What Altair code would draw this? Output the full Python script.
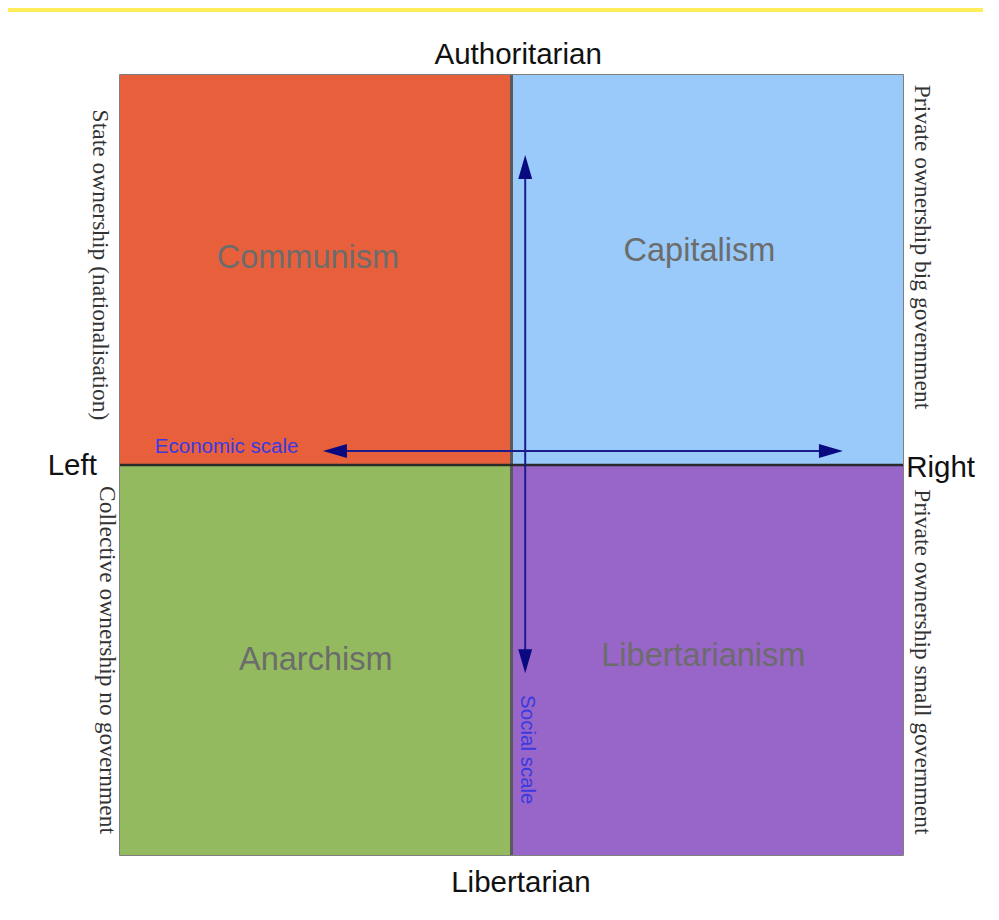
import altair as alt
import pandas as pd

# Quadrants (economic range x social range)
quadrants = ["Communism", "Capitalism", "Anarchism", "Libertarianism"]
q_x = [-10, 0, -10, 0]
q_x2 = [0, 10, 0, 10]
q_y = [0, 0, -10, -10]
q_y2 = [10, 10, 0, 0]
q_colors = ["#E8603B", "#99CAFA", "#93BA5F", "#9866C8"]
q_label_x = [-5.2, 4.8, -5.0, 4.9]
q_label_y = [5.3, 5.5, -5.0, -4.9]

# Pole labels (outside the square)
pole_text = ["Authoritarian", "Libertarian", "Left", "Right"]
pole_x = [0.17, 0.24, -10.59, 10.08]
pole_y = [10.51, -10.72, -0.03, -0.08]
pole_align = ["center", "center", "right", "left"]

# Side descriptions (rotated, serif)
side_text = ["State ownership (nationalisation)", "Collective ownership no government",
             "Private ownership big  government", "Private ownership small government"]
side_x = [-10.51, -10.33, 10.49, 10.49]
side_y = [5.13, -5.0, 5.59, -5.05]

# Scale arrows
econ_x = [-4.6, 8.2]
econ_y = 0.36
social_x = 0.35
social_y = [-5.0, 7.6]
head_x = [-4.51, 8.16, 0.35, 0.35]
head_y = [0.36, 0.36, 7.64, -5.03]
head_angle = [270, 90, 0, 180]

W, H = 783, 780
xs = alt.Scale(domain=[-10, 10], nice=False, zero=False)
ys = alt.Scale(domain=[-10, 10], nice=False, zero=False)

qdf = pd.DataFrame({"quadrant": quadrants, "x": q_x, "x2": q_x2, "y": q_y, "y2": q_y2,
                    "lx": q_label_x, "ly": q_label_y})
pdf = pd.DataFrame({"t": pole_text, "x": pole_x, "y": pole_y, "a": pole_align})
sdf = pd.DataFrame({"t": side_text, "x": side_x, "y": side_y})
hdf = pd.DataFrame({"x": head_x, "y": head_y, "angle": head_angle})

band = alt.Chart(pd.DataFrame({"k": [0]})).mark_rect(color="#FFEE5A").encode(
    x=alt.value(-112), x2=alt.value(W + 80), y=alt.value(-67), y2=alt.value(-63))

rects = alt.Chart(qdf).mark_rect().encode(
    x=alt.X("x:Q", scale=xs, axis=None), x2="x2:Q",
    y=alt.Y("y:Q", scale=ys, axis=None), y2="y2:Q",
    color=alt.Color("quadrant:N", scale=alt.Scale(domain=quadrants, range=q_colors), legend=None))

hline = alt.Chart(pd.DataFrame({"x": [-10], "x2": [10], "y": [0]})).mark_rule(
    color="#2a2a2a", strokeWidth=2.5).encode(
    x=alt.X("x:Q", scale=xs), x2="x2:Q", y=alt.Y("y:Q", scale=ys))
vline = alt.Chart(pd.DataFrame({"x": [0], "y": [-10], "y2": [10]})).mark_rule(
    color="#5a5a5a", strokeWidth=3).encode(
    x=alt.X("x:Q", scale=xs), y=alt.Y("y:Q", scale=ys), y2="y2:Q")

earrow = alt.Chart(pd.DataFrame({"x": [econ_x[0]], "x2": [econ_x[1]], "y": [econ_y]})).mark_rule(
    color="#1c1c8c", strokeWidth=2).encode(
    x=alt.X("x:Q", scale=xs), x2="x2:Q", y=alt.Y("y:Q", scale=ys))
sarrow = alt.Chart(pd.DataFrame({"x": [social_x], "y": [social_y[0]], "y2": [social_y[1]]})).mark_rule(
    color="#1c1c8c", strokeWidth=2).encode(
    x=alt.X("x:Q", scale=xs), y=alt.Y("y:Q", scale=ys), y2="y2:Q")
heads = alt.Chart(hdf).mark_point(
    shape="M0,-1 L0.58,1 L-0.58,1 Z", size=576, filled=True, color="#0a0a80", opacity=1).encode(
    x=alt.X("x:Q", scale=xs), y=alt.Y("y:Q", scale=ys), angle=alt.Angle("angle:Q", scale=None))

qlabels = alt.Chart(qdf).mark_text(
    font="Liberation Sans", fontSize=32.5, color="#6c6c6c", align="center", baseline="middle").encode(
    x=alt.X("lx:Q", scale=xs), y=alt.Y("ly:Q", scale=ys), text="quadrant:N")

econ_label = alt.Chart(pd.DataFrame({"t": ["Economic scale"], "x": [-9.11], "y": [0.46]})).mark_text(
    font="Liberation Sans", fontSize=20.5, color="#3a3ae0", align="left", baseline="middle").encode(
    x=alt.X("x:Q", scale=xs), y=alt.Y("y:Q", scale=ys), text="t:N")
soc_label = alt.Chart(pd.DataFrame({"t": ["Social scale"], "x": [0.40], "y": [-5.9]})).mark_text(
    font="Liberation Sans", fontSize=20.5, color="#3a3ae0", align="left", baseline="middle", angle=90).encode(
    x=alt.X("x:Q", scale=xs), y=alt.Y("y:Q", scale=ys), text="t:N")

pole_layers = []
for al in ["center", "right", "left"]:
    pole_layers.append(
        alt.Chart(pdf).transform_filter(alt.datum.a == al).mark_text(
            font="Liberation Sans", fontSize=29.5, color="#111111", baseline="middle", align=al).encode(
            x=alt.X("x:Q", scale=xs), y=alt.Y("y:Q", scale=ys), text="t:N"))

sides = alt.Chart(sdf).mark_text(
    font="Liberation Serif", fontSize=23.5, color="#333333", align="center", baseline="middle", angle=90).encode(
    x=alt.X("x:Q", scale=xs), y=alt.Y("y:Q", scale=ys), text="t:N")

chart = alt.layer(band, rects, vline, hline, earrow, sarrow, heads, qlabels, econ_label, soc_label,
                  *pole_layers, sides).properties(
    width=W, height=H,
    autosize=alt.AutoSizeParams(type="none"),
    padding={"left": 112, "top": 67, "right": 80, "bottom": 55},
    background="white",
).configure_view(stroke="#555555", strokeWidth=1.5)

chart.save("out.html", embed_options={"renderer": "svg", "actions": False})
